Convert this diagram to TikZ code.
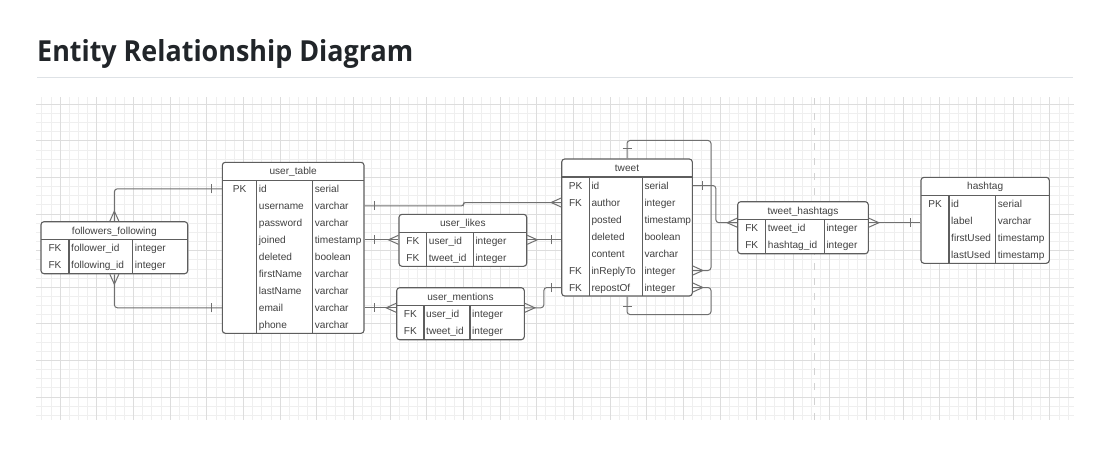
\documentclass[tikz,border=0pt]{standalone}
\usepackage{fontspec}
\usepackage{graphicx}
\setmainfont{Liberation Sans}
\newfontfamily\titlefont{Open Sans}
\usetikzlibrary{calc}
\definecolor{gridminor}{HTML}{EFEFEF}
\definecolor{gridmajor}{HTML}{DDDDDD}
\definecolor{boxline}{HTML}{5E5E5E}
\definecolor{txt}{HTML}{404040}
\definecolor{conn}{HTML}{707070}
\definecolor{titlecol}{HTML}{212529}
\definecolor{rulecol}{HTML}{DEE2E6}
\definecolor{dashcol}{HTML}{D2D2D2}
\tikzset{
  tbl/.style={draw=boxline, line width=1.1pt, fill=white, rounded corners=3pt, inner sep=0pt},
  tline/.style={draw=boxline, line width=1.1pt},
  cell/.style={inner sep=0pt, text=txt, font=\fontsize{10.1}{12}\selectfont, text height=7.2pt, text depth=0pt},
  conline/.style={draw=conn, line width=1pt, rounded corners=3pt},
  pics/crow/.style={code={\draw[draw=conn, line width=1pt] (0,4.5) -- (10,0) -- (0,-4.5);}},
  pics/onebar/.style={code={\draw[draw=conn, line width=1pt] (10,-4.5) -- (10,4.5);}},
}
% #1 name #2 xl #3 yt #4 xr #5 c1 #6 c2 #7 title #8 nrows #9 rows
\newcommand\ertable[9]{%
  \pgfmathsetmacro\tbH{18+17*#8}%
  \node[tbl, minimum width={(#4-#2)*1pt}, minimum height={\tbH*1pt}] (#1) at ({(#2+#4)/2},{#3+\tbH/2}) {};
  \draw[tline] (#2,#3+18) -- (#4,#3+18);
  \draw[tline] (#5,#3+18) -- (#5,#3+\tbH);
  \draw[tline] (#6,#3+18) -- (#6,#3+\tbH);
  \node[cell] (#1-t) at ({(#2+#4)/2},{#3+9}) {#7};
  \foreach \rk/\rn/\rt [count=\i from 0] in {#9} {
    \if\relax\detokenize\expandafter{\rk}\relax\else
      \node[cell] (#1-k\i) at ({(#2+#5)/2},{#3+26.5+17*\i}) {\rk};
    \fi
    \node[cell, anchor=west] (#1-n\i) at ({#5+2},{#3+26.5+17*\i}) {\rn};
    \node[cell, anchor=west] (#1-y\i) at ({#6+2},{#3+26.5+17*\i}) {\rt};
  }
}
\begin{document}
\begin{tikzpicture}[x=1pt,y=-1pt]
\useasboundingbox (0,0) rectangle (1112,453);
\fill[white] (0,0) rectangle (1112,453);
% title
\node[anchor=base west, inner sep=0pt, text=titlecol] (title) at (37,61)
  {\resizebox{376pt}{22pt}{\titlefont\bfseries Entity Relationship Diagram}};
\draw[rulecol, line width=1pt] (37,77.5) -- (1073,77.5);
% grid
\foreach \i in {-2,...,110}{
  \pgfmathsetmacro\gx{60.3+9.1625*\i}
  \draw[gridminor, line width=1pt] (\gx,97) -- (\gx,420);
}
\foreach \j in {0,...,34}{
  \pgfmathsetmacro\gy{104.3+9.15*\j}
  \draw[gridminor, line width=1pt] (36,\gy) -- (1074,\gy);
}
\foreach \i in {0,4,...,108}{
  \pgfmathsetmacro\gx{60.3+9.1625*\i}
  \draw[gridmajor, line width=1pt] (\gx,97) -- (\gx,420);
}
\foreach \j in {0,4,...,32}{
  \pgfmathsetmacro\gy{104.3+9.15*\j}
  \draw[gridmajor, line width=1pt] (36,\gy) -- (1074,\gy);
}
\draw[dashcol, line width=1.6pt, dash pattern=on 7pt off 8pt] (814.5,98) -- (814.5,420);
% tables
\ertable{ff}{41}{221.7}{187.7}{69}{132.7}{followers\_following}{2}{FK/follower\_id/integer,FK/following\_id/integer}
\ertable{ut}{222.3}{162.3}{364}{256.7}{312.7}{user\_table}{9}{PK/id/serial,/username/varchar,/password/varchar,/joined/timestamp,/deleted/boolean,/firstName/varchar,/lastName/varchar,/email/varchar,/phone/varchar}
\ertable{ul}{399}{214.3}{526.7}{426.7}{473.3}{user\_likes}{2}{FK/user\_id/integer,FK/tweet\_id/integer}
\ertable{um}{396.7}{287.7}{524.3}{424}{470}{user\_mentions}{2}{FK/user\_id/integer,FK/tweet\_id/integer}
\ertable{tw}{561.7}{159}{692.3}{589.3}{642.3}{tweet}{7}{PK/id/serial,FK/author/integer,/posted/timestamp,/deleted/boolean,/content/varchar,FK/inReplyTo/integer,FK/repostOf/integer}
\ertable{th}{737.7}{201.7}{868.3}{765.7}{824.3}{tweet\_hashtags}{2}{FK/tweet\_id/integer,FK/hashtag\_id/integer}
\ertable{ht}{921}{177.3}{1049.3}{949}{995.7}{hashtag}{4}{PK/id/serial,/label/varchar,/firstUsed/timestamp,/lastUsed/timestamp}
\coordinate (thL) at ($(th.west |- th-n0)+(0,-5.5)$);
% connectors
\draw[conline] (ff.north) |- (ut.west |- ut-n0);
\pic[rotate=90] at (ff.north) {crow};
\pic[rotate=180] at (ut.west |- ut-n0) {onebar};
\draw[conline] (ff.south) |- (ut.west |- ut-n7);
\pic[rotate=-90] at (ff.south) {crow};
\pic[rotate=180] at (ut.west |- ut-n7) {onebar};
\draw[conline, rounded corners=2pt] (ut.east |- ut-n1) -- ++(99,0) |- (tw.west |- tw-n1);
\pic at (ut.east |- ut-n1) {onebar};
\pic[rotate=180] at (tw.west |- tw-n1) {crow};
\draw[conline] (ut.east |- ut-n3) -- (ul.west |- ut-n3);
\pic at (ut.east |- ut-n3) {onebar};
\pic[rotate=180] at (ul.west |- ut-n3) {crow};
\draw[conline] (ul.east |- ut-n3) -- (tw.west |- ut-n3);
\pic at (ul.east |- ut-n3) {crow};
\pic[rotate=180] at (tw.west |- ut-n3) {onebar};
\draw[conline] (ut.east |- ut-n7) -- (um.west |- ut-n7);
\pic at (ut.east |- ut-n7) {onebar};
\pic[rotate=180] at (um.west |- ut-n7) {crow};
\draw[conline] (um.east |- ut-n7) -- ++(19,0) |- (tw.west |- tw-n6);
\pic at (um.east |- ut-n7) {crow};
\pic[rotate=180] at (tw.west |- tw-n6) {onebar};
\draw[conline] (tw.north) -- ++(0,-18) -- ++(84,0) |- (tw.east |- tw-n5);
\pic[rotate=90] at (tw.north) {onebar};
\pic at (tw.east |- tw-n5) {crow};
\draw[conline] (tw.south) -- ++(0,18) -- ++(84,0) |- (tw.east |- tw-n6);
\pic[rotate=-90] at (tw.south) {onebar};
\pic at (tw.east |- tw-n6) {crow};
\draw[conline] (tw.east |- tw-n0) -- ++(23,0) |- (thL);
\pic at (tw.east |- tw-n0) {onebar};
\pic[rotate=180] at (thL) {crow};
\draw[conline] (th.east |- thL) -- (ht.west |- thL);
\pic at (th.east |- thL) {crow};
\pic[rotate=180] at (ht.west |- thL) {onebar};
\end{tikzpicture}
\end{document}
